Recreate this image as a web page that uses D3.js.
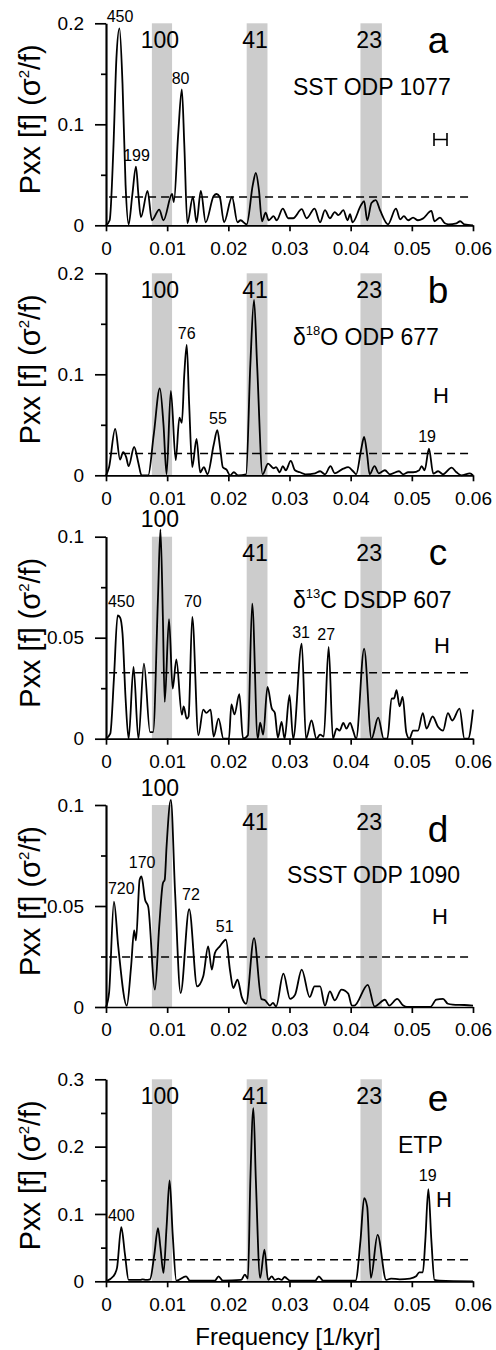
<!DOCTYPE html>
<html>
<head>
<meta charset="utf-8">
<script src="https://cdn.jsdelivr.net/npm/d3@7"></script>
<style>
  body { margin: 0; background: #fff; }
  svg { font-family: "Liberation Sans", Arial, sans-serif; }
  .axis path, .axis line { stroke: #000; stroke-width: 1.7; }
  .axis text { font-size: 19px; fill: #000; }
</style>
</head>
<body>
<div id="chart"></div>
<script>
// spectra, [frequency (1/kyr), Pxx]
var sst1077 = [[0,0],[0.0006,0.005],[0.0012,0.075],[0.0017,0.165],[0.0022,0.195],[0.0027,0.14],[0.0032,0.04],[0.0037,0.001],
  [0.0043,0.03],[0.0049,0.058],[0.0053,0.03],[0.0057,0.008],[0.0068,0.034],[0.0075,0.005],[0.0087,0.0155],[0.0094,0.005],
  [0.0108,0.031],[0.0111,0.023],[0.0118,0.09],[0.0124,0.1345],[0.0128,0.08],[0.0133,0.002],[0.0142,0.028],[0.0148,0.003],
  [0.0155,0.034],[0.0163,0.003],[0.0176,0.029],[0.0181,0.031],[0.0186,0.028],[0.0193,0.003],[0.0206,0.028],[0.0215,0.003],
  [0.0220,0.005],[0.0230,0.001],[0.0240,0.04],[0.0245,0.052],[0.0250,0.035],[0.0255,0.004],[0.0261,0.0126],[0.0266,0.005],
  [0.0274,0.009],[0.0279,0.005],[0.0289,0.0165],[0.0298,0.007],[0.0306,0.007],[0.0320,0.016],[0.0328,0.007],[0.0341,0.0165],
  [0.0350,0.003],[0.0358,0.015],[0.0366,0.007],[0.0374,0.013],[0.0380,0.010],[0.0388,0.015],[0.0395,0.005],[0.0399,0.011],
  [0.0403,0.003],[0.0417,0.02],[0.0422,0.024],[0.0427,0.005],[0.0434,0.022],[0.0441,0.025],[0.0448,0.015],[0.0461,0.001],
  [0.0474,0.0165],[0.0481,0.006],[0.0487,0.009],[0.0494,0.005],[0.0502,0.0076],[0.0510,0.005],[0.0518,0.0066],[0.0532,0.0142],
  [0.0537,0.004],[0.0546,0.0076],[0.0554,0.002],[0.0560,0.001],[0.0573,0.002],[0.0579,0.004],[0.0586,0.001],[0.0600,0]];

var d18O677 = [[0,0],[0.0005,0.008],[0.0015,0.046],[0.0023,0.0155],[0.0028,0.023],[0.0033,0.018],[0.0037,0.009],[0.0046,0.028],
  [0.0053,0.012],[0.0058,0],[0.0069,0],[0.0078,0.04],[0.0088,0.086],[0.0094,0.05],[0.0099,0.001],[0.0106,0.0836],[0.0114,0.015],
  [0.0120,0.057],[0.0124,0.052],[0.0128,0.1],[0.0132,0.129],[0.0136,0.07],[0.0141,0.008],[0.0148,0.036],[0.0154,0.003],
  [0.0160,0.008],[0.0166,0.001],[0.0176,0.03],[0.0182,0.0446],[0.0187,0.025],[0.0191,0.008],[0.0197,0.0056],[0.0203,0],
  [0.0209,0.003],[0.0216,0],[0.0229,0.001],[0.0236,0.11],[0.0242,0.1736],[0.0247,0.11],[0.0256,0.001],[0.0265,0.0116],
  [0.0274,0.007],[0.0278,0.008],[0.0284,0.003],[0.0289,0.009],[0.0294,0.005],[0.0302,0.0142],[0.0309,0.005],[0.0317,0.003],
  [0.0326,0.001],[0.0342,0.002],[0.0350,0.004],[0.0358,0.001],[0.0367,0.009],[0.0374,0.002],[0.0388,0.0066],[0.0396,0.008],
  [0.0404,0.004],[0.0409,0.001],[0.0417,0.025],[0.0422,0.038],[0.0427,0.02],[0.0431,0.001],[0.0439,0.009],[0.0446,0.002],
  [0.0456,0.005],[0.0464,0.001],[0.0479,0.004],[0.0486,0.001],[0.0494,0.003],[0.0502,0.003],[0.0512,0.005],[0.0516,0.009],
  [0.0521,0.005],[0.0528,0.0264],[0.0535,0.0017],[0.0543,0.004],[0.0551,0.001],[0.0565,0.0076],[0.0573,0.003],[0.0581,0],
  [0.0595,0.002],[0.0600,0]];

var d13C607 = [[0,0],[0.0007,0.0025],[0.0013,0.03],[0.0019,0.061],[0.0023,0.06],[0.0027,0.052],[0.0032,0.02],[0.0037,0],
  [0.0045,0.0355],[0.0053,0],[0.0062,0.0372],[0.0072,0.0033],[0.0077,0.0033],[0.0085,0.07],[0.0089,0.1036],[0.0093,0.06],
  [0.0096,0.0182],[0.0103,0.0592],[0.0109,0.0248],[0.0115,0.0392],[0.0124,0.0119],[0.0127,0.016],[0.0132,0.0099],[0.0135,0.011],
  [0.0141,0.0603],[0.0151,0.0017],[0.0159,0.0144],[0.0164,0.0128],[0.0171,0.0144],[0.0176,0.001],[0.0184,0.0099],[0.0192,0],
  [0.0201,0],[0.0205,0.017],[0.0210,0.012],[0.0218,0.022],[0.0224,0],[0.0232,0.0017],[0.0239,0.0669],[0.0248,0],
  [0.0252,0.008],[0.0257,0.002],[0.0264,0.0256],[0.0271,0.015],[0.0276,0.0128],[0.0281,0.0005],[0.0287,0.0083],[0.0292,0],
  [0.0300,0.0215],[0.0306,0],[0.0320,0.0471],[0.0327,0],[0.0336,0.009],[0.0344,0],[0.0350,0.002],[0.0356,0.001],
  [0.0364,0.0455],[0.0371,0],[0.0377,0.005],[0.0382,0.004],[0.0388,0.0078],[0.0393,0.005],[0.0399,0.0078],[0.0404,0.004],
  [0.0409,0],[0.0422,0.0446],[0.0434,0],[0.0445,0.0104],[0.0454,0],[0.0460,0],[0.0467,0.0198],[0.0471,0.02],[0.0475,0.024],
  [0.0480,0.016],[0.0485,0.0207],[0.0491,0.003],[0.0496,0],[0.0502,0.004],[0.0510,0.004],[0.0518,0.0127],[0.0524,0.005],
  [0.0534,0.011],[0.0543,0.0058],[0.0551,0.004],[0.0559,0.0127],[0.0566,0.009],[0.0578,0.0149],[0.0586,0],[0.0592,0],
  [0.0600,0.0144]];

var ssst1090 = [[0,0],[0.0005,0.007],[0.0013,0.0522],[0.0020,0.03],[0.0034,0.0007],[0.0041,0.02],[0.0046,0.0379],[0.0049,0.033],
  [0.0055,0.063],[0.0058,0.0646],[0.0064,0.053],[0.0069,0.0497],[0.0080,0.0086],[0.0087,0.0399],[0.0093,0.0613],[0.0096,0.063],
  [0.0099,0.0794],[0.0106,0.1025],[0.0113,0.0563],[0.0122,0.0069],[0.0136,0.0484],[0.0149,0.0102],[0.0159,0.0152],[0.0167,0.03],
  [0.0173,0.0185],[0.0178,0.0267],[0.0186,0.03],[0.0196,0.0333],[0.0203,0.0176],[0.0208,0.0094],[0.0215,0.0135],[0.0222,0.0049],
  [0.0229,0.0016],[0.0242,0.0341],[0.0254,0.004],[0.0260,0.0033],[0.0268,0.0007],[0.0273,0.002],[0.0278,0.0003],[0.0290,0.0165],
  [0.0301,0.004],[0.0309,0.006],[0.0320,0.0185],[0.0333,0.0049],[0.0341,0.0102],[0.0350,0.0102],[0.0358,0.0007],[0.0366,0.0077],
  [0.0374,0.0033],[0.0385,0.0086],[0.0396,0.0066],[0.0402,0.0007],[0.0406,0.0007],[0.0428,0.011],[0.0439,0.0003],[0.0456,0.0036],
  [0.0463,0.0007],[0.0476,0.004],[0.0486,0.0007],[0.0492,0],[0.0530,0],[0.0540,0.0036],[0.0551,0.004],[0.0559,0.0016],
  [0.0567,0.0012],[0.0586,0.001],[0.0600,0.0007]];

var etp = [[0,0],[0.0012,0.0074],[0.0018,0.02],[0.0025,0.0806],[0.0031,0.04],[0.0037,0.002],[0.0056,0.002],[0.0060,0.003],
  [0.0065,0.002],[0.0072,0.003],[0.0079,0.04],[0.0085,0.079],[0.0089,0.05],[0.0094,0.0124],[0.0099,0.08],[0.0104,0.1497],
  [0.0109,0.07],[0.0115,0.001],[0.0131,0.0074],[0.0137,0.001],[0.0178,0.001],[0.0184,0.0074],[0.0191,0.001],[0.0221,0.002],
  [0.0227,0.0099],[0.0232,0.004],[0.0236,0.15],[0.0241,0.257],[0.0245,0.15],[0.0252,0.005],[0.0259,0.047],[0.0265,0.002],
  [0.0271,0.0074],[0.0276,0.002],[0.0282,0.004],[0.0287,0.002],[0.0292,0.0064],[0.0301,0.001],[0.0342,0.001],[0.0348,0.0074],
  [0.0355,0.001],[0.0408,0.001],[0.0416,0.06],[0.0422,0.1236],[0.0427,0.111],[0.0433,0.005],[0.0444,0.069],[0.0458,0.002],
  [0.0466,0.004],[0.0480,0.003],[0.0497,0.004],[0.0507,0.0074],[0.0512,0.0133],[0.0518,0.0133],[0.0522,0.06],[0.0527,0.1369],
  [0.0532,0.06],[0.0537,0.002],[0.0545,0.001],[0.0600,0]];

// significance levels (dashed)
var thresholds = [0.0281, 0.0215, 0.0326, 0.0247, 0.0321];

// orbital bands: 100, 41, 23 kyr
var bandNames = ["100", "41", "23"];
var bands = [[0.0075, 0.0108], [0.0230, 0.0264], [0.0416, 0.0451]];

var xTicks = [0, 0.01, 0.02, 0.03, 0.04, 0.05, 0.06];
var yMaxes = [0.2, 0.2, 0.1, 0.1, 0.3];
var yMajor = [[0, 0.1, 0.2], [0, 0.1, 0.2], [0, 0.05, 0.1], [0, 0.05, 0.1], [0, 0.1, 0.2, 0.3]];
var yMinor = [[0.05, 0.15], [0.05, 0.15], [0.025, 0.075], [0.025, 0.075], [0.05, 0.15, 0.25]];
var letters = ["a", "b", "c", "d", "e"];

// peak labels (period in kyr)
var peakLabels = [
  [["450", 0.0023, 0.195], ["199", 0.0050, 0.058], ["80", 0.0122, 0.134]],
  [["76", 0.0132, 0.129], ["55", 0.0183, 0.045], ["19", 0.0525, 0.027]],
  [["450", 0.0025, 0.062], ["70", 0.0142, 0.062], ["31", 0.0319, 0.047], ["27", 0.0360, 0.046]],
  [["720", 0.0025, 0.053], ["170", 0.0059, 0.066], ["72", 0.0139, 0.050], ["51", 0.0194, 0.034]],
  [["400", 0.0025, 0.081], ["19", 0.0526, 0.140]]
];

var series = [sst1077, d18O677, d13C607, ssst1090, etp];

var svgWidth = 496;
var svgHeight = 1350;
var left = 106, right = 473;
var tops = [23.3, 273.3, 536.7, 805, 1079.3];
var plotH = 202;

var svg = d3.select("#chart")
  .append("svg")
  .attr("width", svgWidth)
  .attr("height", svgHeight);

var x = d3.scaleLinear().domain([0, 0.06]).range([left, right]);

series.forEach(function(data, i) {
  var top = tops[i];
  var bottom = top + plotH;
  var y = d3.scaleLinear().domain([0, yMaxes[i]]).range([bottom, top]);
  var g = svg.append("g");

  // shaded bands
  g.selectAll("rect.band")
    .data(bands)
    .enter()
    .append("rect")
    .attr("class", "band")
    .attr("x", d => x(d[0]))
    .attr("width", d => x(d[1]) - x(d[0]))
    .attr("y", y(yMaxes[i]))
    .attr("height", y(0) - y(yMaxes[i]))
    .attr("fill", "#cccccc");

  // dashed significance line
  g.append("line")
    .attr("x1", x(0.0005))
    .attr("x2", x(0.0597))
    .attr("y1", y(thresholds[i]))
    .attr("y2", y(thresholds[i]))
    .attr("stroke", "#000")
    .attr("stroke-width", 1.5)
    .attr("stroke-dasharray", "8,5");

  // spectrum
  var line = d3.line()
    .x(d => x(d[0]))
    .y(d => y(d[1]))
    .curve(d3.curveMonotoneX);

  g.append("path")
    .datum(data)
    .attr("d", line)
    .attr("fill", "none")
    .attr("stroke", "#000")
    .attr("stroke-width", 1.8)
    .attr("stroke-linejoin", "round");

  // axes
  g.append("g")
    .attr("class", "axis")
    .attr("transform", `translate(0, ${bottom})`)
    .call(d3.axisBottom(x).tickValues(xTicks).tickSize(6).tickSizeOuter(0).tickPadding(10)
      .tickFormat(d => d === 0 ? "0" : d3.format(".2f")(d)));

  g.append("g")
    .attr("class", "axis")
    .attr("transform", `translate(${left}, 0)`)
    .call(d3.axisLeft(y).tickValues(yMinor[i]).tickSize(5).tickSizeOuter(0).tickFormat(""));

  g.append("g")
    .attr("class", "axis")
    .attr("transform", `translate(${left}, 0)`)
    .call(d3.axisLeft(y).tickValues(yMajor[i]).tickSize(11).tickSizeOuter(0).tickPadding(11)
      .tickFormat(d => d === 0 ? "0" : String(d)));

  // y label, squeezed along its length to the reference span
  var yl = g.append("text")
    .attr("text-anchor", "middle")
    .style("font-size", "29px");
  yl.append("tspan").text("Pxx [f] (\u03c3");
  yl.append("tspan").attr("dy", -11).style("font-size", "15px").text("2");
  yl.append("tspan").attr("dy", 11).text("/f)");
  var len = yl.node().getComputedTextLength() || 150;
  yl.attr("transform", `translate(40, ${(top + bottom) / 2 - 5}) rotate(-90) scale(${150 / len}, 1)`);

  // band labels
  g.selectAll("text.bandname")
    .data(bands)
    .enter()
    .append("text")
    .attr("class", "bandname")
    .attr("x", d => (x(d[0]) + x(d[1])) / 2 - 2)
    .attr("y", (d, j) => (j === 0 && (i === 2 || i === 3)) ? top - 9.5 : top + 24.5)
    .attr("text-anchor", "middle")
    .style("font-size", "23px")
    .text((d, j) => bandNames[j]);

  // panel letter
  var letterDy = [30, 30, 28, 37, 32];
  g.append("text")
    .attr("x", 438)
    .attr("y", top + letterDy[i])
    .attr("text-anchor", "middle")
    .style("font-size", "37px")
    .text(letters[i]);

  // peak labels
  g.selectAll("text.peak")
    .data(peakLabels[i])
    .enter()
    .append("text")
    .attr("class", "peak")
    .attr("x", d => x(d[1]))
    .attr("y", d => y(d[2]) - 6)
    .attr("text-anchor", "middle")
    .style("font-size", "16px")
    .text(d => d[0]);
});

// series names
function nameLabel(xp, yp, parts) {
  var t = svg.append("text").attr("x", xp).attr("y", yp).style("font-size", "23px");
  parts.forEach(function(p) {
    var s = t.append("tspan").text(p[0]);
    if (p[1]) s.style("font-size", "13px").attr("dy", -10);
    if (p[2]) s.attr("dy", 10);
  });
}
nameLabel(293, 95, [["SST ODP 1077"]]);
nameLabel(293, 345, [["\u03b4"], ["18", 1], ["O ODP 677", 0, 1]]);
nameLabel(293, 608, [["\u03b4"], ["13", 1], ["C DSDP 607", 0, 1]]);
nameLabel(287, 883, [["SSST ODP 1090"]]);
nameLabel(398, 1153, [["ETP"]]);

// bandwidth markers
svg.append("path")
  .attr("d", "M434,133 V146 M434,139.5 H447 M447,133 V146")
  .attr("stroke", "#000")
  .attr("stroke-width", 1.6)
  .attr("fill", "none");

var hMarks = [[433, 403], [434, 653], [432, 924], [436, 1207]];
svg.selectAll("text.hmark")
  .data(hMarks)
  .enter()
  .append("text")
  .attr("class", "hmark")
  .attr("x", d => d[0])
  .attr("y", d => d[1])
  .style("font-size", "22px")
  .text("H");

svg.append("text")
  .attr("x", 288)
  .attr("y", 1345)
  .attr("text-anchor", "middle")
  .style("font-size", "24px")
  .text("Frequency [1/kyr]");
</script>
</body>
</html>
